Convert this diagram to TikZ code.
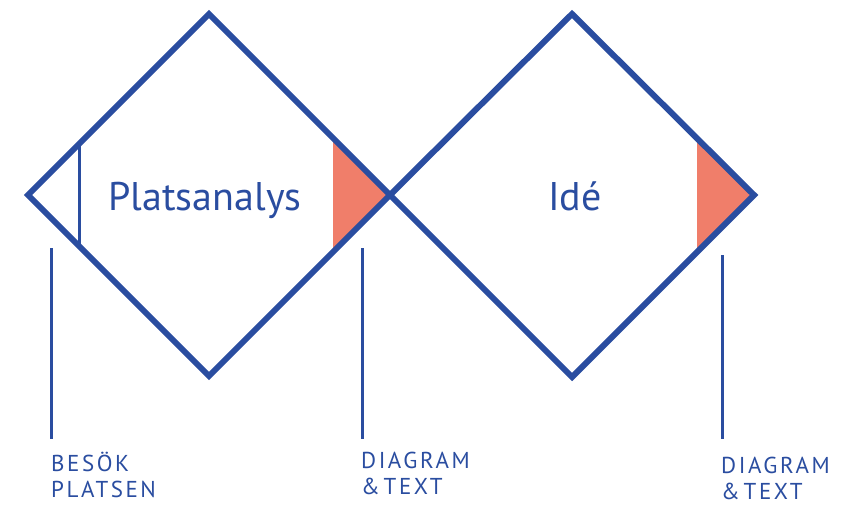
\documentclass[tikz,border=0pt]{standalone}
\usepackage{fontspec}
\setmainfont{PT Sans}
\newfontfamily\spaced[LetterSpace=11]{PT Sans}
\definecolor{dblue}{RGB}{42,77,160}
\definecolor{salmon}{RGB}{240,126,106}
\tikzset{
  edge/.style={draw=dblue,line width=6pt,line join=miter},
  thin/.style={draw=dblue,line width=3pt},
  big/.style={text=dblue,font=\fontsize{40}{44}\selectfont,inner sep=0pt,anchor=base},
  small/.style={text=dblue,font=\spaced\fontsize{23}{26}\selectfont,inner sep=0pt,anchor=north west,align=left},
}
\begin{document}
\begin{tikzpicture}[x=1pt,y=-1pt]
\useasboundingbox (0,0) rectangle (854,505);
% diamond 1
\coordinate (L1) at (28,195);
\coordinate (T1) at (209,14);
\coordinate (M) at (390,195);
\coordinate (B1) at (209,376);
% diamond 2
\coordinate (T2) at (572,14);
\coordinate (R2) at (754,195);
\coordinate (B2) at (572,377);
% fills
\fill[salmon] (333,138) -- (M) -- (333,252) -- cycle;
\fill[salmon] (697,138) -- (R2) -- (697,252) -- cycle;
% inner line
\coordinate (vt) at (79,144);
\coordinate (vb) at (79,246);
\draw[thin] (vt) -- (vb);
\draw[edge] (L1) -- (T1) -- (M) -- (B1) -- cycle;
\draw[edge] (M) -- (T2) -- (R2) -- (B2) -- cycle;
% texts
\node[big] (p) at (205,211) {Platsanalys};
\node[big] (i) at (575,211) {Idé};
% leaders
\coordinate (a1) at (51,248); \coordinate (a2) at (51,439);
\coordinate (b1) at (362,248); \coordinate (b2) at (362,439);
\coordinate (c1) at (722,255); \coordinate (c2) at (722,439);
\draw[thin] (a1) -- (a2);
\draw[thin] (b1) -- (b2);
\draw[thin] (c1) -- (c2);
\node[small] (l1) at (51,452) {BESÖK\\PLATSEN};
\node[small] (l2) at (361,452) {DIAGRAM\\\&\,TEXT};
\node[small] (l3) at (721,457) {DIAGRAM\\\&\,TEXT};
\end{tikzpicture}
\end{document}
